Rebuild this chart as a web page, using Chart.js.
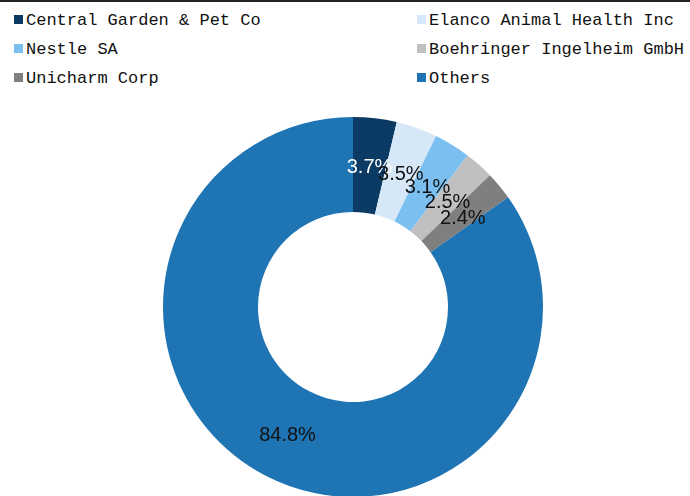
<!DOCTYPE html>
<html>
<head>
<meta charset="utf-8">
<script src="https://cdn.jsdelivr.net/npm/chart.js@4/dist/chart.umd.min.js"></script>
<style>
  body { margin: 0; background: #fff; }
  #wrap { position: relative; width: 690px; height: 496px; overflow: hidden; border-top: 2px solid #222; box-sizing: border-box; }
  #legend { position: absolute; left: 14px; top: 4px; width: 676px; font-family: "Liberation Mono", monospace; font-size: 17px; color: #111; }
  #legend .item { position: absolute; white-space: nowrap; height: 29px; line-height: 29px; }
  #legend .sw { display: inline-block; width: 9px; height: 9px; margin-right: 3px; vertical-align: 1px; }
  #box { position: absolute; left: 163px; top: 115px; width: 380px; height: 380px; }
</style>
</head>
<body>
<div id="wrap">
  <div id="legend"></div>
  <div id="box"><canvas id="pie"></canvas></div>
</div>
<script>
var labels = ['Central Garden & Pet Co', 'Elanco Animal Health Inc', 'Nestle SA', 'Boehringer Ingelheim GmbH', 'Unicharm Corp', 'Others'];
var shares = [3.7, 3.5, 3.1, 2.5, 2.4, 84.8];
var colors = ['#0b3b64', '#d6e8f7', '#7abff0', '#c0c0c0', '#7f7f7f', '#1f74b4'];
var textColors = ['#ffffff', '#111111', '#111111', '#111111', '#111111', '#111111'];

// two-column legend in html
var legendEl = document.getElementById('legend');
labels.forEach(function(name, i) {
    var d = document.createElement('div');
    d.className = 'item';
    d.style.left = (i % 2 === 0 ? 0 : 403) + 'px';
    d.style.top = (Math.floor(i / 2) * 29) + 'px';
    d.innerHTML = '<span class="sw" style="background:' + colors[i] + '"></span>';
    d.appendChild(document.createTextNode(name));
    legendEl.appendChild(d);
});

var sliceLabels = {
    id: 'sliceLabels',
    afterDatasetsDraw: function(chart) {
        var ctx = chart.ctx;
        var meta = chart.getDatasetMeta(0);
        ctx.save();
        ctx.font = '20px "Liberation Sans", Arial, sans-serif';
        ctx.textAlign = 'center';
        ctx.textBaseline = 'middle';
        meta.data.forEach(function(arc, i) {
            var p = arc.tooltipPosition();
            ctx.fillStyle = textColors[i];
            ctx.fillText(shares[i].toFixed(1) + '%', p.x, p.y + 2);
        });
        ctx.restore();
    }
};

new Chart(document.getElementById('pie'), {
    type: 'doughnut',
    data: {
        labels: labels,
        datasets: [{
            data: shares,
            backgroundColor: colors,
            borderWidth: 0
        }]
    },
    options: {
        responsive: true,
        maintainAspectRatio: false,
        animation: false,
        cutout: '50%',
        layout: { padding: 0 },
        plugins: {
            legend: { display: false },
            tooltip: { enabled: false }
        }
    },
    plugins: [sliceLabels]
});
</script>
</body>
</html>
